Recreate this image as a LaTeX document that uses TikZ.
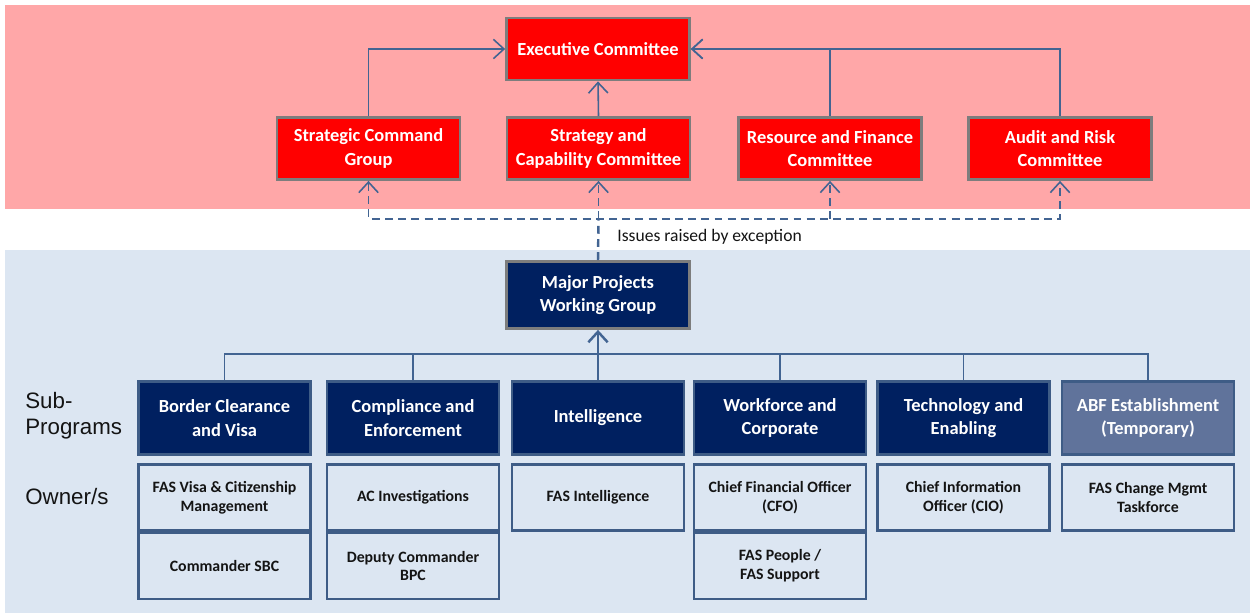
\documentclass[tikz,border=0pt]{standalone}
\usepackage{fontspec}
\setmainfont{Carlito}
\newfontfamily\arialfont{Liberation Sans}
\usetikzlibrary{arrows.meta,calc}

\definecolor{pinkbg}{RGB}{255,167,168}
\definecolor{bluebg}{RGB}{220,230,242}
\definecolor{navy}{RGB}{0,32,96}
\definecolor{slate}{RGB}{96,115,155}
\definecolor{linkblue}{RGB}{66,100,146}
\definecolor{boxedge}{RGB}{62,92,134}
\definecolor{greyedge}{RGB}{125,125,125}
\definecolor{darktext}{RGB}{20,20,20}

\tikzset{
  redbox/.style={draw=greyedge, line width=1.6pt, fill=red, text=white,
    font=\fontsize{10.5}{13.5}\selectfont\bfseries, align=center,
    minimum width=3.66cm, minimum height=1.24cm, inner sep=0pt},
  mpbox/.style={redbox, fill=navy, minimum height=1.34cm},
  subbox/.style={draw=boxedge, line width=1.2pt, fill=navy, text=white,
    font=\fontsize{10.5}{13.5}\selectfont\bfseries, align=center,
    minimum width=3.44cm, minimum height=1.46cm, inner sep=0pt},
  ownerbox/.style={draw=boxedge, line width=1.6pt, fill=bluebg, text=darktext,
    font=\fontsize{9}{10.8}\selectfont\bfseries, align=center,
    minimum width=3.44cm, minimum height=1.32cm, inner sep=0pt},
  link/.style={draw=linkblue, line width=0.9pt, -{Straight Barb[length=6pt,width=11pt]}},
  plainlink/.style={draw=linkblue, line width=0.9pt},
  dashlink/.style={draw=linkblue, line width=0.9pt, dash pattern=on 4.5pt off 3pt},
  rowlabel/.style={anchor=west, inner sep=0pt, align=left, text=darktext,
    font=\arialfont\fontsize{12.7}{14.7}\selectfont}
}

\begin{document}
\begin{tikzpicture}[x=0.02cm, y=-0.02cm]
  \useasboundingbox (0,0) rectangle (1250,614);
  \fill[pinkbg] (5,5) rectangle (1250,209);
  \fill[bluebg] (5,250) rectangle (1250,613);

  % governance committees
  \node[redbox] (exec) at (598,49) {Executive Committee};
  \node[redbox] (scg) at (368.5,148.5) {Strategic Command\\Group};
  \node[redbox] (sac) at (598.5,148.5) {Strategy and\\Capability Committee};
  \node[redbox] (rfc) at (830,148.5) {Resource and Finance\\Committee};
  \node[redbox] (arc) at (1060,148.5) {Audit and Risk\\Committee};

  \draw[link] (scg.north) |- (exec.west);
  \draw[link] (sac.north) -- (exec.south);
  \draw[link] (rfc.north) |- (exec.east);
  \draw[link] (arc.north) |- (exec.east);

  \node[mpbox] (mpwg) at (598,295) {Major Projects\\Working Group};

  \coordinate (split) at (598.5,219);
  \draw[dashlink, line width=1.4pt] (mpwg.north) -- (split);
  \draw[dashlink, {Straight Barb[length=6pt,width=11pt]}-{Straight Barb[length=6pt,width=11pt]}]
    (scg.south) |- (arc.south |- split) -- (arc.south);
  \draw[dashlink, -{Straight Barb[length=6pt,width=11pt]}] (split) -- (sac.south);
  \draw[dashlink, -{Straight Barb[length=6pt,width=11pt]}] (rfc.south |- split) -- (rfc.south);
  \node[anchor=west, inner sep=0pt, text=darktext, font=\fontsize{10}{12}\selectfont] (issues)
    at (617,237) {Issues raised by exception};

  % sub-programs
  \node[subbox] (bcv) at (224.5,418) {Border Clearance\\and Visa};
  \node[subbox] (cae) at (413,418) {Compliance and\\Enforcement};
  \node[subbox] (intel) at (598,418) {Intelligence};
  \node[subbox] (wac) at (780,418) {Workforce and\\Corporate};
  \node[subbox] (tae) at (963.5,418) {Technology and\\Enabling};
  \node[subbox, fill=slate] (abf) at (1148,418) {ABF Establishment\\(Temporary)};

  \coordinate (bus) at (598,354);
  \foreach \n in {bcv,cae,intel,wac,tae,abf}
    \draw[plainlink] (\n.north) |- (bus);
  \draw[link, line width=1.4pt] (bus) -- (mpwg.south);

  % owners
  \node[ownerbox] (bcv1) at (224.5,497.5) {FAS Visa \& Citizenship\\Management};
  \node[ownerbox] (bcv2) at (224.5,566) {Commander SBC};
  \node[ownerbox] (cae1) at (413,497.5) {AC Investigations};
  \node[ownerbox] (cae2) at (413,566) {Deputy Commander\\BPC};
  \node[ownerbox] (intel1) at (598,497.5) {FAS Intelligence};
  \node[ownerbox] (wac1) at (780,497.5) {Chief Financial Officer\\(CFO)};
  \node[ownerbox] (wac2) at (780,566) {FAS People /\\FAS Support};
  \node[ownerbox] (tae1) at (963.5,497.5) {Chief Information\\Officer (CIO)};
  \node[ownerbox] (abf1) at (1148,497.5) {FAS Change Mgmt\\Taskforce};

  \node[rowlabel] (sublabel) at (25,416) {Sub-\\Programs};
  \node[rowlabel] (ownlabel) at (25,497) {Owner/s};
\end{tikzpicture}
\end{document}
